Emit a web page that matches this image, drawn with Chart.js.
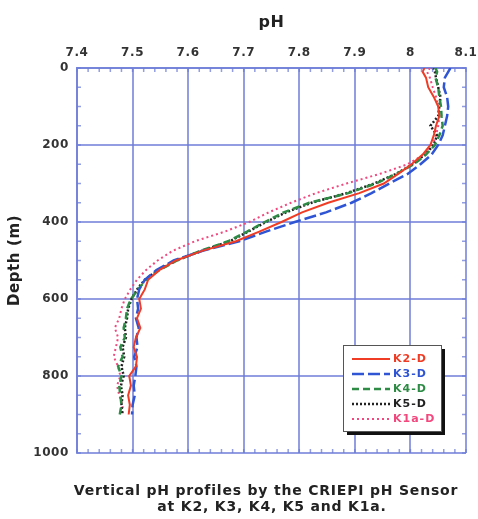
<!DOCTYPE html>
<html><head><meta charset="utf-8">
<script src="https://cdn.jsdelivr.net/npm/chart.js@4/dist/chart.umd.min.js"></script>
<style>html,body{margin:0;padding:0;background:#fff}#wrap{width:478px;height:519px}</style>
</head><body><div id="wrap"><canvas id="c" width="478" height="519"></canvas></div>
<script>
const depths = [0,10,25,50,75,100,125,150,175,200,225,250,275,300,325,350,375,400,425,450,475,500,525,550,575,600,625,650,675,700,725,750,775,800,825,850,875,900];
const k2 = [8.025,8.022,8.028,8.032,8.042,8.050,8.052,8.046,8.042,8.036,8.022,8.002,7.978,7.952,7.908,7.852,7.805,7.768,7.728,7.686,7.625,7.578,7.548,7.528,7.522,7.512,7.515,7.508,7.514,7.506,7.502,7.508,7.506,7.494,7.497,7.492,7.495,7.493];
const k3 = [8.072,8.068,8.062,8.060,8.066,8.068,8.066,8.062,8.058,8.050,8.038,8.018,7.995,7.962,7.930,7.894,7.848,7.792,7.740,7.692,7.626,7.574,7.543,7.522,7.512,7.508,7.510,7.506,7.511,7.507,7.509,7.503,7.507,7.505,7.502,7.504,7.500,7.499];
const k4 = [8.045,8.048,8.045,8.050,8.052,8.055,8.056,8.058,8.052,8.044,8.028,8.006,7.975,7.938,7.888,7.818,7.772,7.738,7.706,7.672,7.622,7.580,7.548,7.524,7.510,7.497,7.490,7.488,7.484,7.486,7.478,7.482,7.474,7.480,7.476,7.478,7.480,7.477];
const k5 = [8.040,8.044,8.046,8.050,8.054,8.052,8.050,8.036,8.048,8.042,8.026,8.004,7.974,7.935,7.885,7.822,7.776,7.740,7.708,7.675,7.624,7.578,7.546,7.522,7.508,7.498,7.492,7.490,7.486,7.488,7.482,7.485,7.480,7.484,7.479,7.482,7.480,7.481];
const k1a = [8.035,8.030,8.035,8.040,8.046,8.050,8.052,8.050,8.046,8.040,8.024,7.995,7.945,7.885,7.830,7.785,7.745,7.710,7.666,7.612,7.572,7.545,7.524,7.508,7.496,7.486,7.480,7.476,7.468,7.474,7.470,7.466,7.474,7.478,7.472,7.476,7.482,7.483];
const seriesNames = ['K2-D','K3-D','K4-D','K5-D','K1a-D'];
const xTickLabels = ['7.4','7.5','7.6','7.7','7.8','7.9','8','8.1'];
const yTickLabels = ['0','200','400','600','800','1000'];
const caption = ['Vertical pH profiles by the CRIEPI pH Sensor','at K2, K3, K4, K5 and K1a.'];

const colors = ['#f03c24','#2f55d4','#2e8b45','#222222','#f2487e'];
const dashes = [[],[12,4],[7,4],[2,2],[2,3]];
const widths = [2,2.5,2.5,2.5,2];
const allVals = [k2,k3,k4,k5,k1a];
const gridCol = 'rgba(110,125,215,0.75)';
const FONT = '"DejaVu Sans"';

const datasets = allVals.map((vals,i)=>({
  label: seriesNames[i],
  data: vals.map((v,j)=>({x:v,y:depths[j]})),
  borderColor: colors[i], backgroundColor: colors[i],
  borderDash: dashes[i], borderWidth: widths[i],
  showLine: true, pointRadius: 0, tension: 0
}));

const spacing = {
  id:'spacing',
  beforeDraw(chart){ chart.ctx.letterSpacing='0.6px'; },
  afterDraw(chart){ chart.ctx.letterSpacing='0px'; }
};

const minorTicks = {
  id:'minorTicks',
  afterDatasetsDraw(chart){
    const {ctx, chartArea:a, scales:{x,y}} = chart;
    ctx.save(); ctx.strokeStyle = gridCol; ctx.lineWidth = 1.5;
    ctx.beginPath();
    for(let k=0; k<=35; k++){
      const px = x.getPixelForValue(7.4 + k*0.02);
      ctx.moveTo(px,a.top); ctx.lineTo(px,a.top+4);
      ctx.moveTo(px,a.bottom); ctx.lineTo(px,a.bottom-4);
    }
    for(let d=0; d<=1000; d+=50){
      const py = y.getPixelForValue(d);
      ctx.moveTo(a.left,py); ctx.lineTo(a.left+4,py);
      ctx.moveTo(a.right,py); ctx.lineTo(a.right-4,py);
    }
    ctx.stroke(); ctx.restore();
  }
};

const boxLegend = {
  id:'boxLegend',
  afterDraw(chart){
    const {ctx} = chart;
    const bx=343, by=345, bw=98, bh=86;
    ctx.save();
    ctx.fillStyle='#111'; ctx.fillRect(bx+4,by+4,bw,bh);
    ctx.fillStyle='#fff'; ctx.fillRect(bx,by,bw,bh);
    ctx.strokeStyle='#555'; ctx.lineWidth=1; ctx.strokeRect(bx+0.5,by+0.5,bw,bh);
    ctx.letterSpacing='1px';
    chart.data.datasets.forEach((ds,i)=>{
      const yy = by+14+i*15;
      ctx.strokeStyle=ds.borderColor; ctx.lineWidth=ds.borderWidth; ctx.setLineDash(ds.borderDash);
      ctx.beginPath(); ctx.moveTo(bx+9,yy); ctx.lineTo(bx+47,yy); ctx.stroke();
      ctx.setLineDash([]);
      ctx.fillStyle=ds.borderColor; ctx.font='bold 11px '+FONT;
      ctx.textBaseline='middle'; ctx.textAlign='left';
      ctx.fillText(ds.label,bx+50,yy);
    });
    ctx.fillStyle='#222'; ctx.font='bold 14px '+FONT;
    ctx.letterSpacing='0.8px'; ctx.textAlign='center'; ctx.textBaseline='middle';
    ctx.fillText(caption[0],266,491);
    ctx.fillText(caption[1],272,507);
    ctx.restore();
  }
};

new Chart(document.getElementById('c'),{
  type:'scatter',
  data:{datasets},
  options:{
    responsive:false, animation:false,
    layout:{padding:{left:0,right:12,top:0,bottom:66}},
    plugins:{ legend:{display:false}, tooltip:{enabled:false} },
    scales:{
      x:{type:'linear', position:'top', min:7.4, max:8.1,
        afterFit(s){s.height=68; s.paddingLeft=0; s.paddingRight=0;},
        ticks:{stepSize:0.1, padding:8, color:'#333', font:{family:FONT,size:12,weight:'bold'},
          callback:(v)=>xTickLabels[Math.round((v-7.4)/0.1)]},
        grid:{color:gridCol, lineWidth:2, drawTicks:false},
        border:{color:gridCol, width:2},
        title:{display:true, text:'pH', color:'#222', font:{family:FONT,size:16,weight:'bold'}, padding:{top:13,bottom:4}}
      },
      y:{type:'linear', reverse:true, min:0, max:1000,
        afterFit(s){s.width=77; s.paddingTop=0; s.paddingBottom=0;},
        ticks:{stepSize:200, padding:8, color:'#333', font:{family:FONT,size:12,weight:'bold'},
          callback:(v)=>yTickLabels[Math.round(v/200)]},
        grid:{color:gridCol, lineWidth:2, drawTicks:false},
        border:{color:gridCol, width:2},
        title:{display:true, text:'Depth (m)', color:'#222', font:{family:FONT,size:15,weight:'bold'}, padding:{top:6,bottom:0}}
      }
    }
  },
  plugins:[spacing, minorTicks, boxLegend]
});
</script></body></html>
